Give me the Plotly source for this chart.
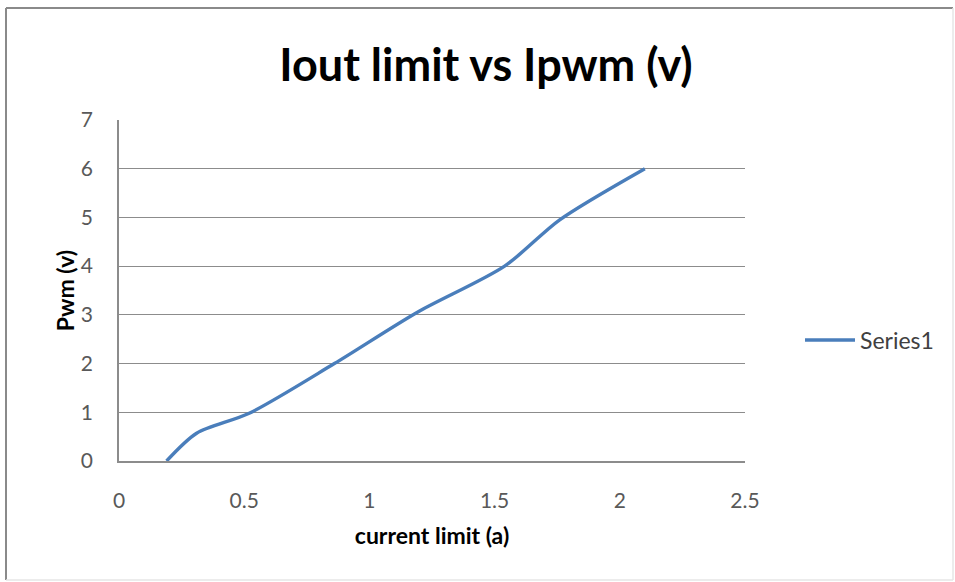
import plotly.graph_objects as go

current_limit = [0.19, 0.31, 0.52, 0.86, 1.19, 1.54, 1.76, 2.1]
pwm_v = [0.0, 0.57, 0.98, 2.0, 3.05, 4.0, 4.95, 6.0]
x_ticks = [0, 0.5, 1, 1.5, 2, 2.5]
x_tick_labels = ["0", "0.5", "1", "1.5", "2", "2.5"]
y_ticks = [0, 1, 2, 3, 4, 5, 6, 7]

W, H = 955, 582
ML, MR, MT, MB = 119, 210, 120, 121
PW = W - ML - MR
PH = H - MT - MB

def px(x):
    return (x - ML) / PW

def py(y):
    return (H - MB - y) / PH

fig = go.Figure()
fig.add_trace(go.Scatter(
    x=current_limit, y=pwm_v, mode="lines", name="Series1",
    line=dict(color="#4A7EBB", width=3.4, shape="spline", smoothing=0.8),
))

font_main = "Lato, Open Sans, Liberation Sans, Arial"
dark = dict(color="#8a8a8a", width=2)
light = dict(color="#e6e6e6", width=1.5)
fig.update_layout(
    width=W, height=H,
    margin=dict(l=ML, r=MR, t=MT, b=MB),
    paper_bgcolor="white", plot_bgcolor="white",
    title=dict(text="<b>Iout limit vs Ipwm (v)</b>", x=486 / W, xanchor="center",
               y=1 - 65 / H, yanchor="middle",
               font=dict(family=font_main, size=45, color="#000000")),
    xaxis=dict(range=[0, 2.5], tickvals=x_ticks, ticktext=x_tick_labels,
               showgrid=False, zeroline=False, showline=True, linecolor="#8c8c8c", linewidth=1.5,
               ticks="", ticklabelstandoff=20,
               tickfont=dict(family=font_main, size=21, color="#595959"),
               title=dict(text="<b>current limit (a)</b>", standoff=17,
                          font=dict(family=font_main, size=23, color="#000000"))),
    yaxis=dict(range=[0, 7], tickvals=y_ticks,
               showgrid=True, gridcolor="#8c8c8c", gridwidth=1.3, zeroline=False,
               showline=True, linecolor="#8c8c8c", linewidth=1.5, ticks="",
               ticklabelstandoff=20,
               tickfont=dict(family=font_main, size=21, color="#595959"),
               title=dict(text="<b>Pwm (v)</b>", standoff=0,
                          font=dict(family=font_main, size=23, color="#000000"))),
    legend=dict(x=px(800), y=py(340), xanchor="left", yanchor="middle",
                itemwidth=50,
                font=dict(family=font_main, size=23, color="#404040"),
                bgcolor="rgba(0,0,0,0)"),
    showlegend=True,
    shapes=[
        dict(type="line", xref="paper", yref="paper", x0=px(6), x1=px(6), y0=py(580), y1=py(8), line=dark),
        dict(type="line", xref="paper", yref="paper", x0=px(6), x1=px(953), y0=py(8), y1=py(8), line=dark),
        dict(type="line", xref="paper", yref="paper", x0=px(953), x1=px(953), y0=py(580), y1=py(8), line=light),
        dict(type="line", xref="paper", yref="paper", x0=px(6), x1=px(953), y0=py(580), y1=py(580), line=light),
    ],
)

fig.write_html("out.html", config={"displayModeBar": False},
               post_script="document.body.style.margin='0px';")
